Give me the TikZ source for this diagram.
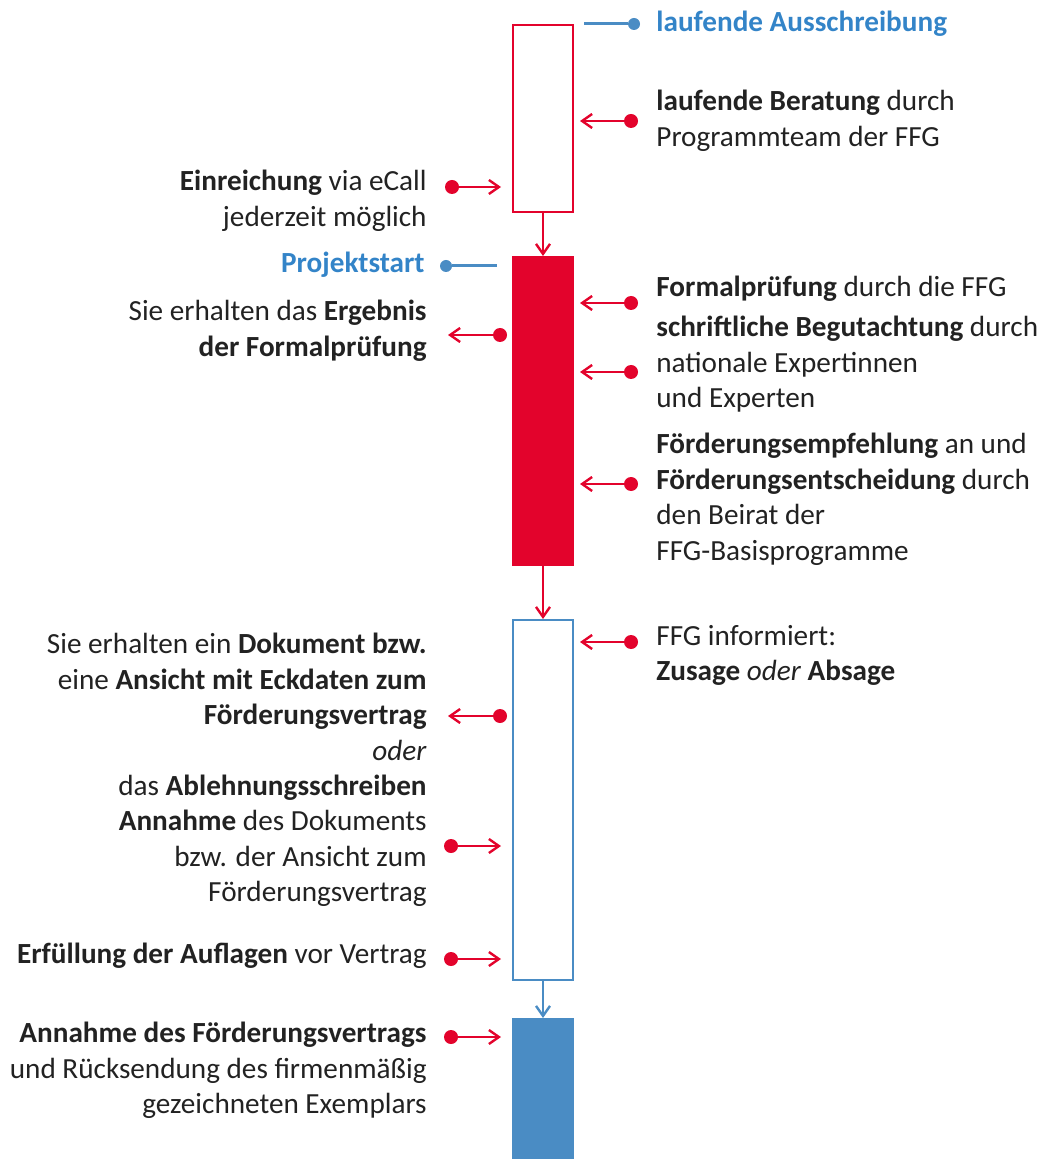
\documentclass[tikz,border=0pt]{standalone}
\usepackage{fontspec}
\setmainfont{Carlito}
\usepackage{tikz}
\usetikzlibrary{arrows.meta, positioning, calc}
\definecolor{ffgred}{HTML}{E3032C}
\definecolor{ffgblue}{HTML}{4A8CC4}
\definecolor{ffgtext}{HTML}{3384C8}
\definecolor{ink}{HTML}{222222}
\tikzstyle{txt} = [inner sep=0pt, text=ink, font=\fontsize{14.6}{17.7}\selectfont, execute at begin node=\strut]
\tikzstyle{lefttxt} = [txt, anchor=north east, align=right]
\tikzstyle{righttxt} = [txt, anchor=north west, align=left]
\tikzstyle{phase} = [rectangle, minimum width=30pt, inner sep=0pt, line width=1pt]
\tikzstyle{dot} = [circle, minimum size=7pt, inner sep=0pt]
\tikzstyle{marker} = [ffgred, line width=1.2pt, -{Straight Barb[length=5pt,width=7pt]}]
\tikzstyle{flow} = [line width=1.2pt, -{Straight Barb[length=5pt,width=7pt]}]

\begin{document}
\begin{tikzpicture}[x=0.5pt, y=-0.5pt]
    \useasboundingbox (0,0) rectangle (1045,1159);
    % Phases
    \node (bar1) [phase, draw=ffgred, fill=white, minimum height=93.5pt] at (543,118.5) {};
    \node (bar2) [phase, draw=ffgred, fill=ffgred, minimum height=154pt] at (543,411) {};
    \node (bar3) [phase, draw=ffgblue, fill=white, minimum height=180pt] at (543,800) {};
    \node (bar4) [phase, draw=ffgblue, fill=ffgblue, minimum height=75.5pt] at (543,1094.5) {};
    \draw [flow, ffgred] (bar1) -- (bar2);
    \draw [flow, ffgred] (bar2) -- (bar3);
    \draw [flow, ffgblue] (bar3) -- (bar4);

    % Labels right
    \node (tAus) [righttxt, text=ffgtext] at (656,6) {\textbf{laufende Ausschreibung}};
    \node (tBeratung) [righttxt] at (656,90) {\textbf{laufende Beratung} durch\\Programmteam der FFG};
    \node (tFormal) [righttxt] at (656,271) {\textbf{Formalprüfung} durch die FFG};
    \node (tGutachten) [righttxt] at (656,316) {\textbf{schriftliche Begutachtung} durch\\nationale Expertinnen\\und Experten};
    \node (tEmpfehlung) [righttxt] at (656,433) {\textbf{Förderungsempfehlung} an und\\\textbf{Förderungsentscheidung} durch\\den Beirat der\\FFG-Basisprogramme};
    \node (tInfo) [righttxt] at (656,625) {FFG informiert:\\\textbf{Zusage} \textit{oder} \textbf{Absage}};

    % Labels left
    \node (tEinreichung) [lefttxt] at (427,170) {\textbf{Einreichung} via eCall\\jederzeit möglich};
    \node (tStart) [lefttxt, text=ffgtext] at (425,247) {\textbf{Projektstart}};
    \node (tErgebnis) [lefttxt] at (427,300) {Sie erhalten das \textbf{Ergebnis}\\\textbf{der Formalprüfung}};
    \node (tDokument) [lefttxt] at (427,633) {Sie erhalten ein \textbf{Dokument bzw.}\\eine \textbf{Ansicht mit Eckdaten zum}\\\textbf{Förderungsvertrag}\\\textit{oder}\\das \textbf{Ablehnungsschreiben}};
    \node (tAnnahme) [lefttxt] at (427,810) {\textbf{Annahme} des Dokuments\\bzw. der Ansicht zum\\Förderungsvertrag};
    \node (tAuflagen) [lefttxt] at (427,938) {\textbf{Erfüllung der Auflagen} vor Vertrag};
    \node (tVertrag) [lefttxt] at (427,1022) {\textbf{Annahme des Förderungsvertrags}\\und Rücksendung des firmenmäßig\\gezeichneten Exemplars};

    % Dots
    \node (dAus) [dot, fill=ffgblue, minimum size=6pt] at (634,24) {};
    \node (dStart) [dot, fill=ffgblue, minimum size=6pt] at (446,266) {};
    \node (dBeratung) [dot, fill=ffgred] at (631,121) {};
    \node (dFormal) [dot, fill=ffgred] at (631,303) {};
    \node (dGutachten) [dot, fill=ffgred] at (631,372) {};
    \node (dEmpfehlung) [dot, fill=ffgred] at (631,484) {};
    \node (dInfo) [dot, fill=ffgred] at (631,642) {};
    \node (dEinreichung) [dot, fill=ffgred] at (452,187) {};
    \node (dErgebnis) [dot, fill=ffgred] at (500,335) {};
    \node (dDokument) [dot, fill=ffgred] at (500,716) {};
    \node (dAnnahme) [dot, fill=ffgred] at (451,846) {};
    \node (dAuflagen) [dot, fill=ffgred] at (451,959) {};
    \node (dVertrag) [dot, fill=ffgred] at (451,1037) {};

    % Connectors
    \draw [ffgblue, line width=1.5pt] (dAus) -- ([xshift=5pt]dAus -| bar1.east);
    \draw [ffgblue, line width=1.5pt] (dStart) -- ([xshift=-7.5pt]dStart -| bar2.west);
    \draw [marker, shorten >=3pt] (dBeratung) -- (dBeratung -| bar1.east);
    \draw [marker, shorten >=3pt] (dFormal) -- (dFormal -| bar2.east);
    \draw [marker, shorten >=3pt] (dGutachten) -- (dGutachten -| bar2.east);
    \draw [marker, shorten >=3pt] (dEmpfehlung) -- (dEmpfehlung -| bar2.east);
    \draw [marker, shorten >=3pt] (dInfo) -- (dInfo -| bar3.east);
    \draw [marker, shorten >=5.5pt] (dEinreichung) -- (dEinreichung -| bar1.west);
    \draw [marker, shorten >=5.5pt] (dAnnahme) -- (dAnnahme -| bar3.west);
    \draw [marker, shorten >=5.5pt] (dAuflagen) -- (dAuflagen -| bar3.west);
    \draw [marker, shorten >=5.5pt] (dVertrag) -- (dVertrag -| bar4.west);
    \draw [marker, shorten >=10.5pt] (dErgebnis) -- (dErgebnis -| tErgebnis.east);
    \draw [marker, shorten >=10.5pt] (dDokument) -- (dDokument -| tDokument.east);
\end{tikzpicture}
\end{document}
